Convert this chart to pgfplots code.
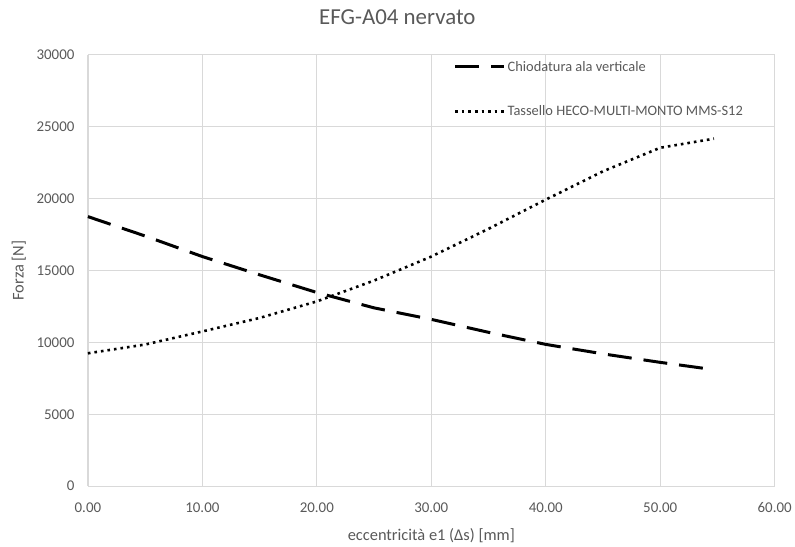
\documentclass[border=0pt]{standalone}
\usepackage{pgfplots}
\pgfplotsset{compat=1.18}
\usepackage{fontspec}
\setmainfont{Carlito}
\definecolor{txt}{HTML}{595959}
\definecolor{gridc}{HTML}{D9D9D9}
\begin{document}
\begin{tikzpicture}
\begin{axis}[
  scale only axis,
  width=688bp, height=432bp,
  xmin=0, xmax=60, ymin=0, ymax=30000,
  xtick={0,10,20,30,40,50,60},
  ytick={0,5000,10000,15000,20000,25000,30000},
  xticklabels={0.00,10.00,20.00,30.00,40.00,50.00,60.00},
  /pgf/number format/1000 sep={},
  /pgf/number format/assume math mode=true,
  scaled y ticks=false,
  grid=major,
  major grid style={draw=gridc, line width=1.2bp},
  axis line style={draw=none},
  tick style={draw=none},
  tick label style={font=\fontsize{15}{16}\selectfont, text=txt},
  xticklabel style={yshift=-13bp},
  yticklabel style={xshift=-10bp},
  xlabel={eccentricità e1 (Δs) [mm]},
  ylabel={Forza [N]},
  label style={font=\fontsize{16.5}{18}\selectfont, text=txt},
  xlabel style={yshift=-9bp},
  ylabel style={yshift=4bp},
  clip=false,
  legend style={at={(0.528,0.995)}, anchor=north west, draw=none, fill=none,
    font=\fontsize{14.5}{17}\selectfont, text=txt, row sep=29bp},
  legend cell align=left,
]
\addplot[black, line width=3bp, dash pattern=on 24bp off 12bp,
  legend image code/.code={\draw[black, line width=3bp] (0bp,0bp) -- (30bp,0bp);
    \draw[black, line width=3bp] (43bp,0bp) -- (46bp,0bp);
    \path (0bp,0bp) -- (49bp,0bp);}] coordinates {
(0,18750) (5,17400) (10,15970) (15,14700) (20,13470) (25,12400) (30,11600) (35,10700) (40,9860) (45,9200) (50,8610) (54.5,8120)
};
\addlegendentry{Chiodatura ala verticale}
\addplot[black, line width=2.6bp, dash pattern=on 2.6bp off 4bp,
  legend image code/.code={\draw[black, line width=2.6bp, dash pattern=on 2.6bp off 4bp] (0bp,0bp) -- (40bp,0bp);
    \path (0bp,0bp) -- (49bp,0bp);}] coordinates {
(0,9240) (5,9850) (10,10760) (15,11700) (20,12850) (25,14300) (30,15970) (35,17900) (40,19930) (45,21900) (50,23540) (54.7,24170)
};
\addlegendentry{Tassello HECO-MULTI-MONTO MMS-S12}
\node[font=\fontsize{23}{26}\selectfont, text=txt] at (axis description cs:0.4506,1.088) {EFG-A04 nervato};
\path (axis description cs:-0.128,-0.1389) rectangle (axis description cs:1.0276,1.1273);
\end{axis}
\end{tikzpicture}
\end{document}
